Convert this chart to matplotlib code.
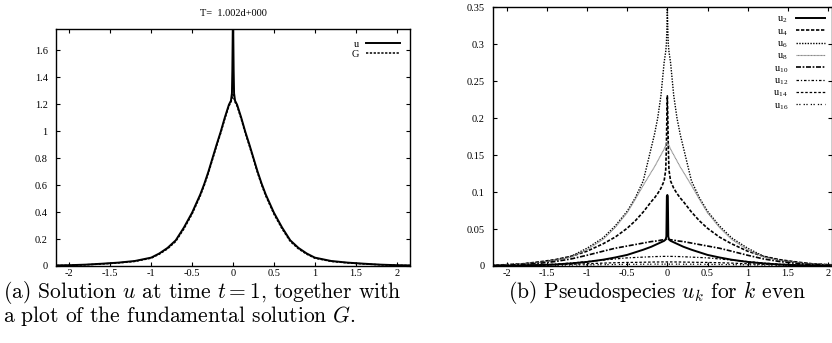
import matplotlib
matplotlib.use("Agg")
import matplotlib.pyplot as plt
import numpy as np

plt.rcParams['font.family'] = ['Liberation Serif', 'DejaVu Serif']
plt.rcParams['mathtext.fontset'] = 'cm'
plt.rcParams['axes.unicode_minus'] = False

# ---- panel (a): solution u and fundamental solution G (right half, mirrored) ----
xa_half = [0.0, 0.003, 0.008, 0.013, 0.025, 0.05, 0.1, 0.15, 0.2, 0.25, 0.3, 0.35, 0.4,
           0.5, 0.6, 0.7, 0.8, 0.9, 1.0, 1.2, 1.4, 1.6, 1.8, 2.0, 2.2]
u_half = [2.0, 1.75, 1.45, 1.28, 1.225, 1.195, 1.10, 0.995, 0.90, 0.80, 0.70, 0.61, 0.53,
          0.395, 0.285, 0.19, 0.134, 0.093, 0.062, 0.037, 0.025, 0.017, 0.010, 0.006, 0.004]
G_half = [1.27, 1.26, 1.25, 1.24, 1.215, 1.185, 1.09, 0.985, 0.89, 0.79, 0.69, 0.60, 0.52,
          0.385, 0.275, 0.182, 0.127, 0.088, 0.058, 0.034, 0.023, 0.015, 0.009, 0.005, 0.003]

# ---- panel (b): pseudospecies u_k (right half, mirrored) ----
xb_half = [0.0, 0.006, 0.012, 0.02, 0.04, 0.08, 0.12, 0.16, 0.2, 0.3, 0.4, 0.5, 0.65,
           0.8, 1.0, 1.2, 1.4, 1.6, 1.8, 2.0, 2.2]
u2 = [0.096, 0.094, 0.040, 0.036, 0.034, 0.032, 0.030, 0.028, 0.026, 0.022, 0.0185, 0.015,
      0.0115, 0.0085, 0.0055, 0.0035, 0.002, 0.0012, 0.0007, 0.0004, 0.0002]
u4 = [0.23, 0.20, 0.16, 0.13, 0.115, 0.105, 0.098, 0.092, 0.087, 0.073, 0.061, 0.051,
      0.039, 0.030, 0.020, 0.013, 0.0085, 0.0055, 0.003, 0.0018, 0.001]
u6 = [0.35, 0.32, 0.30, 0.29, 0.275, 0.23, 0.20, 0.178, 0.16, 0.115, 0.092, 0.074,
      0.054, 0.038, 0.024, 0.013, 0.008, 0.005, 0.003, 0.0018, 0.001]
u8 = [0.166, 0.166, 0.165, 0.163, 0.158, 0.15, 0.142, 0.134, 0.127, 0.109, 0.090, 0.072,
      0.052, 0.036, 0.022, 0.012, 0.0075, 0.0045, 0.0027, 0.0016, 0.001]
u10 = [0.037, 0.037, 0.0365, 0.036, 0.0355, 0.035, 0.034, 0.0335, 0.033, 0.031, 0.029,
       0.027, 0.024, 0.020, 0.0145, 0.0095, 0.006, 0.0035, 0.002, 0.0012, 0.0007]
u12 = [0.013, 0.013, 0.013, 0.013, 0.013, 0.0129, 0.0128, 0.0127, 0.0125, 0.012, 0.0115,
       0.011, 0.0095, 0.008, 0.006, 0.004, 0.0025, 0.0015, 0.001, 0.0006, 0.0004]
u14 = [0.0055, 0.0055, 0.0055, 0.0055, 0.0055, 0.0055, 0.0054, 0.0054, 0.0053, 0.0051,
       0.0049, 0.0048, 0.0044, 0.0039, 0.003, 0.0023, 0.0017, 0.0012, 0.0009, 0.0006, 0.0004]
u16 = [0.0025, 0.0025, 0.0025, 0.0025, 0.0025, 0.0025, 0.0025, 0.0025, 0.0024, 0.0024,
       0.0023, 0.0022, 0.002, 0.0018, 0.0016, 0.0013, 0.001, 0.0008, 0.0006, 0.0004, 0.0003]

xticks = [-2, -1.5, -1, -0.5, 0, 0.5, 1, 1.5, 2]
xticklabels = ['-2', '-1.5', '-1', '-0.5', '0', '0.5', '1', '1.5', '2']
yticks_a = [0, 0.2, 0.4, 0.6, 0.8, 1, 1.2, 1.4, 1.6]
yticklabels_a = ['0', '0.2', '0.4', '0.6', '0.8', '1', '1.2', '1.4', '1.6']
yticks_b = [0, 0.05, 0.1, 0.15, 0.2, 0.25, 0.3, 0.35]
yticklabels_b = ['0', '0.05', '0.1', '0.15', '0.2', '0.25', '0.3', '0.35']


def mirror(xh, yh):
    xh = np.asarray(xh)
    yh = np.asarray(yh)
    x = np.concatenate([-xh[::-1], xh[1:]])
    y = np.concatenate([yh[::-1], yh[1:]])
    return x, y


def style_axes(ax):
    ax.tick_params(direction='in', top=True, right=True, labelsize=7.5,
                   length=3, width=0.8)
    ax.tick_params(axis='x', pad=2)
    ax.tick_params(axis='y', pad=6)
    for s in ax.spines.values():
        s.set_linewidth(1.0)


fig = plt.figure(figsize=(8.32, 3.43), dpi=100)

# panel (a)
ax1 = fig.add_axes([0.0673, 0.2245, 0.4255, 0.691])
x, y = mirror(xa_half, u_half)
ax1.plot(x, y, color='black', lw=1.4, label='u')
x, y = mirror(xa_half, G_half)
ax1.plot(x, y, color='black', lw=1.1, dashes=(1.5, 1), label='G')
ax1.set_xlim(-2.163, 2.163)
ax1.set_ylim(0, 1.756)
ax1.set_xticks(xticks)
ax1.set_xticklabels(xticklabels)
ax1.set_yticks(yticks_a)
ax1.set_yticklabels(yticklabels_a)
style_axes(ax1)
ax1.set_title('T=  1.002d+000', fontsize=7.5, pad=9)
ax1.legend(loc='upper right', frameon=False, markerfirst=False, fontsize=7.5,
           handlelength=3.2, handletextpad=0.7, labelspacing=0.1,
           borderaxespad=0.6)

# panel (b)
ax2 = fig.add_axes([0.5925, 0.2245, 0.4075, 0.755])
series = [u2, u4, u6, u8, u10, u12, u14, u16]
names = ['2', '4', '6', '8', '10', '12', '14', '16']
styles = [
    dict(color='black', lw=1.4),
    dict(color='black', lw=1.2, dashes=(2, 1)),
    dict(color='black', lw=1.0, dashes=(1, 1)),
    dict(color='#888888', lw=0.8, dashes=(1, 0.3)),
    dict(color='black', lw=1.2, dashes=(3, 1, 1, 1)),
    dict(color='black', lw=0.9, dashes=(2, 1.5, 1, 1.5)),
    dict(color='black', lw=0.9, dashes=(2, 1.5)),
    dict(color='black', lw=0.9, dashes=(1, 1.2, 1, 2.5)),
]
for vals, nm, st in zip(series, names, styles):
    x, y = mirror(xb_half, vals)
    ax2.plot(x, y, label='u$_{\\mathregular{' + nm + '}}$', **st)
ax2.set_xlim(-2.171, 2.05)
ax2.set_ylim(0, 0.35)
ax2.set_xticks(xticks)
ax2.set_xticklabels(xticklabels)
ax2.set_yticks(yticks_b)
ax2.set_yticklabels(yticklabels_b)
style_axes(ax2)
ax2.legend(loc='upper right', frameon=False, markerfirst=False, fontsize=7.5,
           handlelength=2.8, handletextpad=0.7, labelspacing=0.12,
           borderaxespad=0.3)

# captions
fig.text(0.004, 0.132, '(a) Solution $u$ at time $t=1$, together with',
         family='cmr10', fontsize=15.5, va='baseline')
fig.text(0.004, 0.060, 'a plot of the fundamental solution $G$.',
         family='cmr10', fontsize=15.5, va='baseline')
fig.text(0.61, 0.132, '(b) Pseudospecies $u_k$ for $k$ even',
         family='cmr10', fontsize=15.5, va='baseline')

fig.savefig('out.png', dpi=100)
